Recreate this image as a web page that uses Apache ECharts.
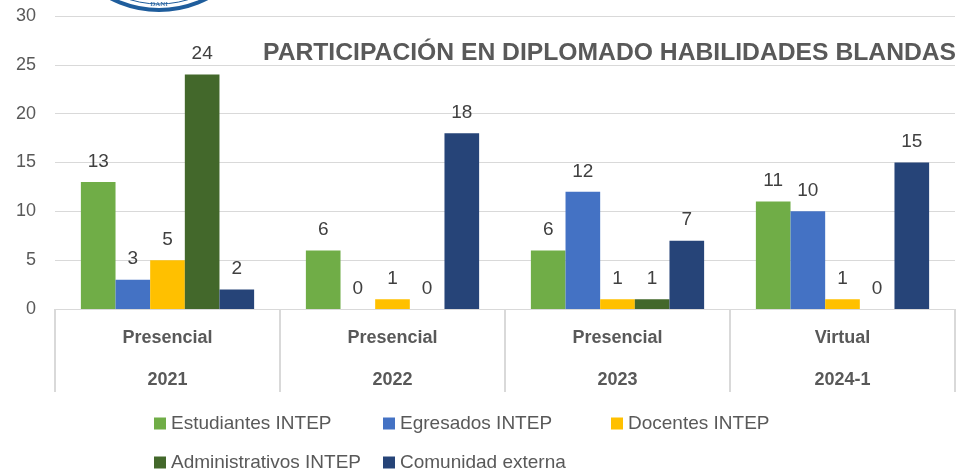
<!DOCTYPE html>
<html>
<head>
<meta charset="utf-8">
<script src="https://cdn.jsdelivr.net/npm/echarts@6/dist/echarts.min.js"></script>
<style>html,body{margin:0;padding:0;background:#fff}#c{width:964px;height:476px}</style>
</head>
<body>
<div id="c"></div>
<script>
const categories = ['Presencial\n2021', 'Presencial\n2022', 'Presencial\n2023', 'Virtual\n2024-1'];
const seriesNames = ['Estudiantes INTEP', 'Egresados INTEP', 'Docentes INTEP', 'Administrativos INTEP', 'Comunidad externa'];
const estudiantes = [13, 6, 6, 11];
const egresados = [3, 0, 12, 10];
const docentes = [5, 1, 1, 1];
const administrativos = [24, 0, 1, 0];
const comunidad = [2, 18, 7, 15];
const yTicks = [0, 5, 10, 15, 20, 25, 30];
const titleText = 'PARTICIPACIÓN EN DIPLOMADO HABILIDADES BLANDAS';

const colors = ['#70AD47', '#4472C4', '#FFC000', '#43682B', '#264478'];
const values = [estudiantes, egresados, docentes, administrativos, comunidad];
const font = "'Liberation Sans', 'DejaVu Sans', sans-serif";
const textColor = '#595959';

const legendPos = [
  {left: 154, top: 414}, {left: 383, top: 414}, {left: 611, top: 414},
  {left: 154, top: 453}, {left: 383, top: 453}
];

const chart = echarts.init(document.getElementById('c'), null, {renderer: 'canvas'});
chart.setOption({
  animation: false,
  color: colors,
  title: {
    text: titleText,
    left: 263, top: 41, padding: 0,
    textStyle: {fontFamily: font, fontWeight: 'bold', fontSize: 24.7, color: textColor}
  },
  graphic: [
    {type: 'circle', shape: {cx: 159, cy: -95, r: 105}, style: {fill: '#fff', stroke: '#1f5d9c', lineWidth: 4}, z: 10},
    {type: 'circle', shape: {cx: 159, cy: -95, r: 99}, style: {fill: 'none', stroke: '#1f5d9c', lineWidth: 1}, z: 10},
    {type: 'text', x: 159, y: 1, style: {text: 'DANI', fontSize: 7, fill: '#1f5d9c', fontFamily: 'serif', align: 'center'}, z: 11}
  ],
  legend: seriesNames.map((n, i) => ({
    data: [n], left: legendPos[i].left, top: legendPos[i].top,
    icon: 'rect', itemWidth: 12, itemHeight: 12, padding: 0, itemGap: 0,
    textStyle: {fontFamily: font, fontSize: 19, color: textColor}
  })),
  grid: {left: 55, right: 9, top: 16, bottom: 167, containLabel: false},
  xAxis: {
    type: 'category', data: categories,
    axisLine: {lineStyle: {color: '#d9d9d9', width: 1}},
    axisTick: {show: true, interval: 0, length: 83, lineStyle: {color: '#d9d9d9', width: 2}},
    axisLabel: {interval: 0, margin: 8, lineHeight: 42, fontFamily: font, fontSize: 18, fontWeight: 'bold', color: textColor}
  },
  yAxis: {
    type: 'value', min: 0, max: 30, interval: 5,
    axisLine: {show: false}, axisTick: {show: false},
    splitLine: {lineStyle: {color: '#d9d9d9', width: 1}},
    axisLabel: {margin: 19, fontFamily: font, fontSize: 18, color: textColor,
      formatter: v => yTicks.includes(v) ? String(v) : ''}
  },
  series: seriesNames.map((n, i) => ({
    name: n, type: 'bar', data: values[i],
    barGap: '0%', barCategoryGap: '23%',
    label: {show: true, position: 'top', distance: 11, fontFamily: font, fontSize: 19, color: '#404040'}
  }))
});
</script>
</body>
</html>
